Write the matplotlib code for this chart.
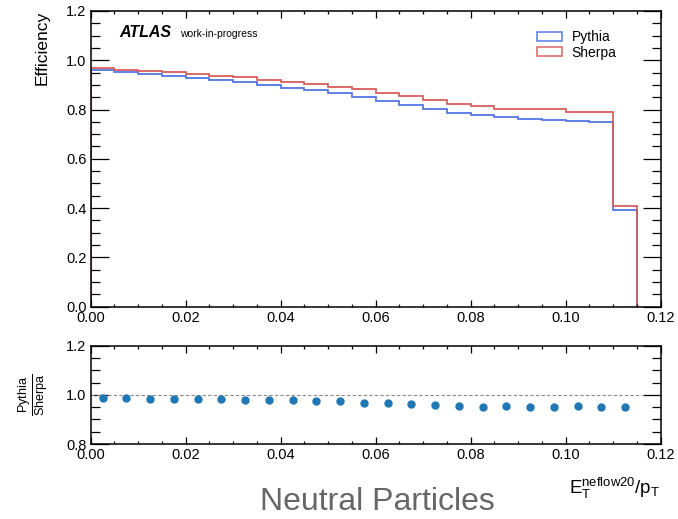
import numpy as np
import matplotlib
matplotlib.use("Agg")
import matplotlib.pyplot as plt
from matplotlib.ticker import MultipleLocator
from matplotlib.patches import Patch

plt.rcParams['font.family'] = ['Liberation Sans', 'DejaVu Sans']
plt.rcParams['mathtext.fontset'] = 'custom'
plt.rcParams['mathtext.rm'] = 'Liberation Sans'
plt.rcParams['mathtext.default'] = 'regular'

# binning in E_T^neflow20 / p_T
bin_edges = np.arange(0.0, 0.1151, 0.005)

eff_pythia = [0.959, 0.953, 0.943, 0.935, 0.926, 0.919, 0.911, 0.900,
              0.889, 0.878, 0.868, 0.849, 0.835, 0.820, 0.801, 0.787,
              0.776, 0.769, 0.762, 0.758, 0.754, 0.750, 0.391]
eff_sherpa = [0.969, 0.962, 0.955, 0.951, 0.944, 0.936, 0.930, 0.921,
              0.913, 0.904, 0.893, 0.883, 0.868, 0.853, 0.839, 0.824,
              0.816, 0.804, 0.804, 0.801, 0.790, 0.790, 0.408]
ratio = [0.989, 0.989, 0.985, 0.985, 0.985, 0.982, 0.979, 0.979,
         0.977, 0.973, 0.973, 0.966, 0.966, 0.962, 0.960, 0.956,
         0.952, 0.956, 0.952, 0.952, 0.956, 0.952, 0.952]

blue = '#4a6fe3'
red = '#d95656'

fig = plt.figure(figsize=(6.78, 5.19), dpi=100)
ax = fig.add_axes([0.1338, 0.409, 0.8407, 0.570])
rax = fig.add_axes([0.1338, 0.1445, 0.8407, 0.1895])

centers = 0.5 * (bin_edges[:-1] + bin_edges[1:])
for vals, col in [(eff_pythia, blue), (eff_sherpa, red)]:
    vals = np.asarray(vals)
    ax.stairs(vals, bin_edges, baseline=0, color=col, lw=1.2)
    # faint uncertainty band
    ax.stairs(vals + 0.004, bin_edges, baseline=vals - 0.004, fill=True,
              color=col, alpha=0.18, lw=0)

ax.set_ylabel('Efficiency', fontsize=12.5, loc='top', labelpad=12)

ax.text(0.05, 0.911, 'ATLAS', transform=ax.transAxes, fontsize=11.5,
        fontweight='bold', fontstyle='italic', va='baseline')
ax.text(0.157, 0.911, 'work-in-progress', transform=ax.transAxes,
        fontsize=7.5, va='baseline')

handles = [Patch(facecolor='none', edgecolor=blue, lw=1.2, alpha=0.85, label='Pythia'),
           Patch(facecolor='none', edgecolor=red, lw=1.2, alpha=0.85, label='Sherpa')]
ax.legend(handles=handles, loc='upper left', bbox_to_anchor=(0.783, 0.935),
          frameon=False, fontsize=10, borderpad=0, borderaxespad=0,
          handlelength=1.8, handleheight=0.6, handletextpad=0.7,
          labelspacing=0.12)

rax.hlines(1.0, 0, 0.116, colors='#888888', linestyles=(0, (3, 2)), lw=0.8)
rax.plot(centers, ratio, 'o', color='#1f77b4', ms=5)
rax.set_ylabel(r'$\frac{Pythia}{Sherpa}$', fontsize=13, labelpad=12)
rax.set_xlabel(r'$E_T^{neflow20}/p_T$', fontsize=13.5, loc='right', labelpad=10)

for a in (ax, rax):
    a.xaxis.set_major_locator(MultipleLocator(0.02))
    a.xaxis.set_minor_locator(MultipleLocator(0.005))
    a.yaxis.set_major_locator(MultipleLocator(0.2))
    a.yaxis.set_minor_locator(MultipleLocator(0.05))
    a.tick_params(which='both', direction='in', top=True, right=True,
                  labelsize=10.5, width=0.9)
    a.tick_params(axis='x', which='major', length=5, pad=3)
    a.tick_params(axis='x', which='minor', length=2.5)
    a.tick_params(axis='y', which='major', length=13, pad=3)
    a.tick_params(axis='y', which='minor', length=6.5)
    for s in a.spines.values():
        s.set_linewidth(1.1)
    a.set_xlim(0, 0.12)
    a.set_xticks(np.arange(0, 0.1201, 0.02))
    a.set_xticklabels([f'{t:.2f}' for t in a.get_xticks()])

ax.set_ylim(0, 1.2)
ax.set_yticks(np.arange(0, 1.201, 0.2))
ax.set_yticklabels([f'{t:.1f}' for t in ax.get_yticks()])
rax.set_ylim(0.8, 1.2)
rax.set_yticks([0.8, 1.0, 1.2])
rax.set_yticklabels(['0.8', '1.0', '1.2'])

fig.text(0.557, 0.033, 'Neutral Particles', fontsize=23, color='#666666',
         ha='center', va='center')

fig.savefig('out.png', dpi=100)
